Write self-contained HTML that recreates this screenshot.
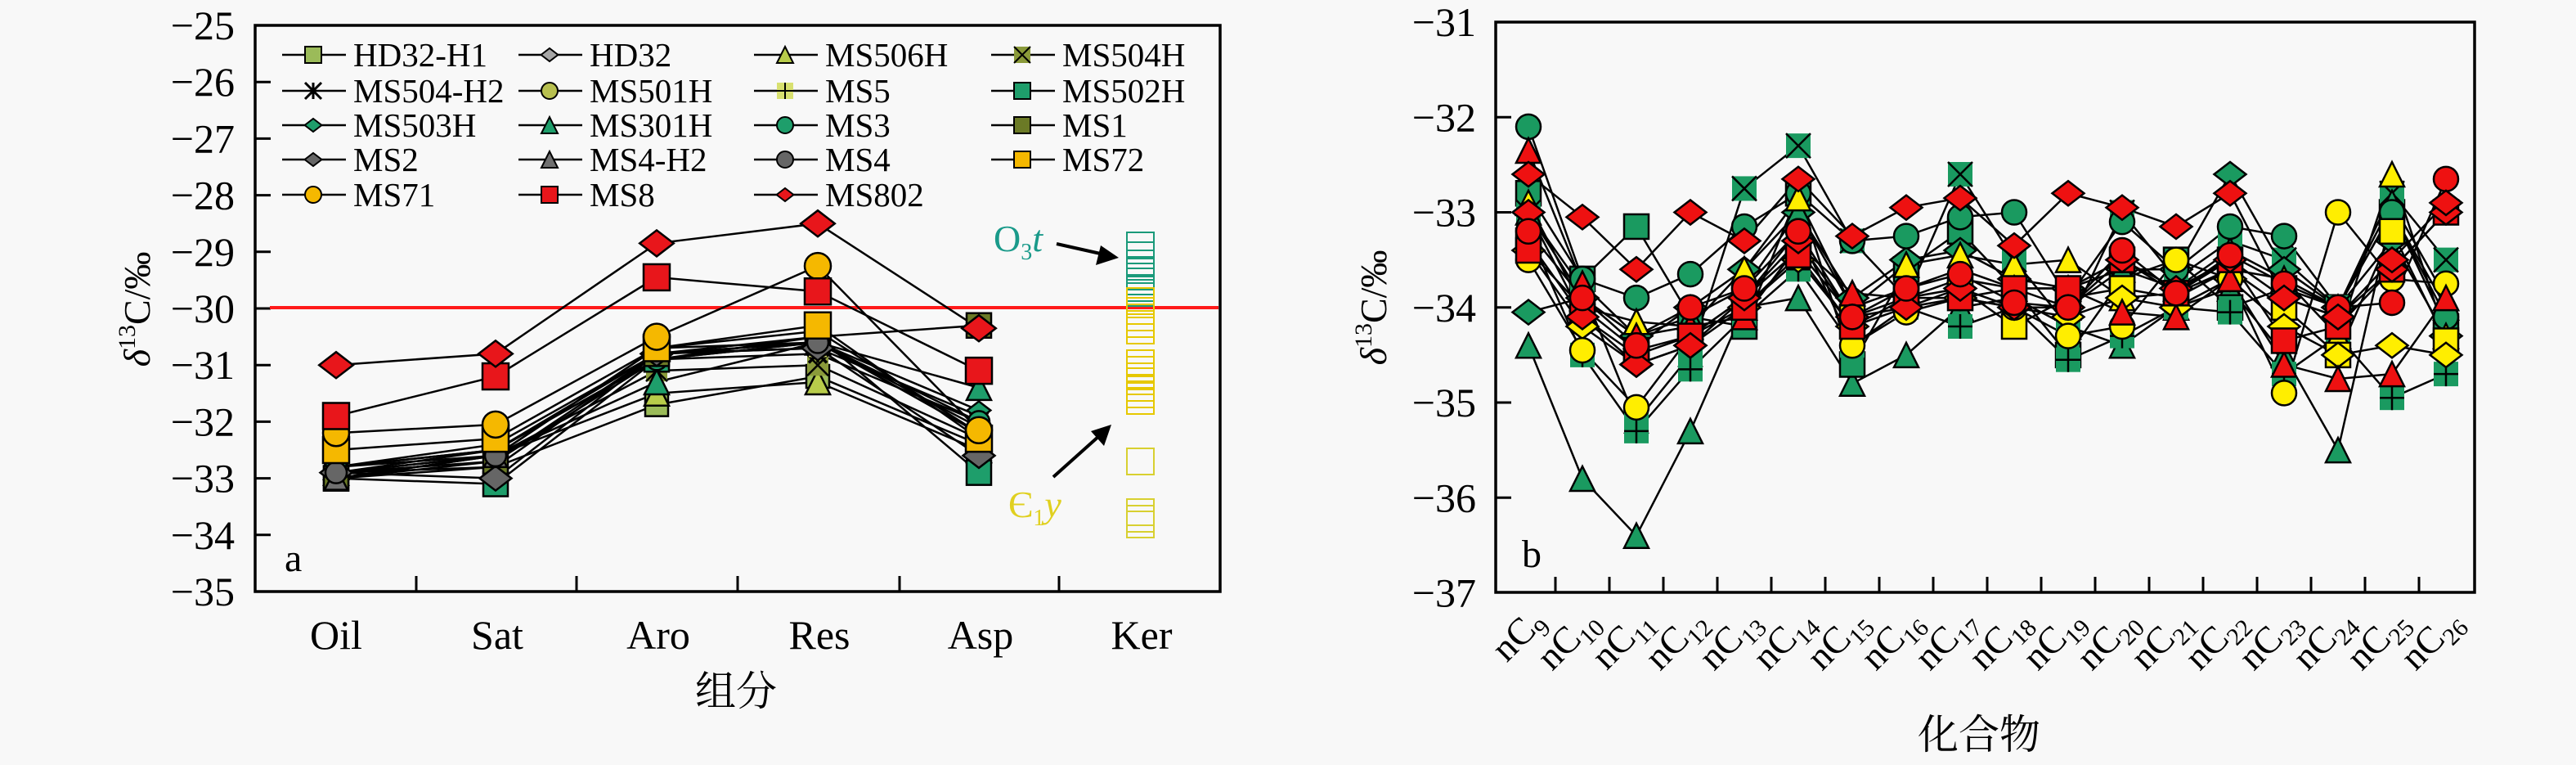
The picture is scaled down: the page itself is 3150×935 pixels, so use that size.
<!DOCTYPE html>
<html><head><meta charset="utf-8"><style>
html,body{margin:0;padding:0;background:#f8f8f8;}
svg{display:block;}
text{font-family:"Liberation Serif","Noto Serif CJK SC",serif;fill:#000;}
</style></head><body>
<svg id="s" width="3150" height="935" viewBox="0 0 3150 935" xmlns="http://www.w3.org/2000/svg"></svg>
<script>
var S=document.getElementById('s');var out='';
function mk(t,x,y,s,f,sw){sw=sw||2.5;var h=s/2,st=' fill="'+f+'" stroke="#000" stroke-width="'+sw+'"';
if(t=='sq')return '<rect x="'+(x-h)+'" y="'+(y-h)+'" width="'+s+'" height="'+s+'"'+st+'/>';
if(t=='ci')return '<circle cx="'+x+'" cy="'+y+'" r="'+h+'"'+st+'/>';
if(t=='di')return '<polygon points="'+(x-h*1.3)+','+y+' '+x+','+(y-h)+' '+(x+h*1.3)+','+y+' '+x+','+(y+h)+'"'+st+'/>';
if(t=='tr')return '<polygon points="'+(x-h)+','+(y+h)+' '+x+','+(y-h)+' '+(x+h)+','+(y+h)+'"'+st+'/>';
if(t=='x')return '<rect x="'+(x-h)+'" y="'+(y-h)+'" width="'+s+'" height="'+s+'" fill="'+f+'" stroke="none"/><path d="M'+(x-h)+' '+(y-h)+'L'+(x+h)+' '+(y+h)+'M'+(x+h)+' '+(y-h)+'L'+(x-h)+' '+(y+h)+'" stroke="#000" stroke-width="'+sw+'"/>';
if(t=='as')return '<path d="M'+(x-h)+' '+(y-h)+'L'+(x+h)+' '+(y+h)+'M'+(x+h)+' '+(y-h)+'L'+(x-h)+' '+(y+h)+'M'+x+' '+(y-h)+'L'+x+' '+(y+h)+'" stroke="#000" stroke-width="'+(sw+1)+'"/>';
if(t=='pl')return '<rect x="'+(x-h)+'" y="'+(y-h)+'" width="'+s+'" height="'+s+'" fill="'+f+'" stroke="none"/><path d="M'+(x-h)+' '+y+'L'+(x+h)+' '+y+'M'+x+' '+(y-h)+'L'+x+' '+(y+h)+'" stroke="#000" stroke-width="'+sw+'"/>';
return '';}
// ---------- LEFT CHART ----------
function yl(v){return 31+(-25-v)*69.2;}
var LX=[411,606,803,1000,1197];
var G='#1e9e6b',Y='#f5b800',R='#e8161b';
var L=[
['HD32-H1','sq','#9bbb59',[-33.0,-32.8,-31.7,-31.2,-32.4],28],
['HD32','di','#a6a6a6',[-32.9,-32.7,-30.9,-30.6,-32.2],20],
['MS506H','tr','#b8cc4a',[-32.9,-32.6,-31.5,-31.3,-32.5],30],
['MS504H','x','#8a9a3a',[-33.0,-32.6,-31.1,-31.0,-32.3],26],
['MS504-H2','as','#c8d060',[-32.8,-32.5,-30.9,-30.8,-32.0],22],
['MS501H','ci','#b8c050',[-32.8,-32.4,-30.8,-30.6,-32.1],28],
['MS5','pl','#d8e070',[-32.9,-32.5,-30.8,-30.7,-31.9],22],
['MS502H','sq',G,[-33.0,-33.1,-30.9,-30.5,-32.9],30],
['MS503H','di',G,[-32.9,-32.8,-30.8,-30.6,-31.8],22],
['MS301H','tr',G,[-32.8,-32.6,-31.3,-30.6,-31.4],30],
['MS3','ci',G,[-32.8,-32.5,-30.9,-30.6,-32.0],26],
['MS1','sq','#6b7a26',[-33.0,-32.7,-30.8,-30.5,-30.3],30],
['MS2','di','#666',[-32.9,-33.0,-30.8,-30.7,-32.6],30],
['MS4-H2','tr','#707070',[-33.0,-32.6,-30.7,-30.4,-32.2],28],
['MS4','ci','#666',[-32.9,-32.6,-30.7,-30.6,-32.2],26],
['MS72','sq',Y,[-32.5,-32.3,-30.7,-30.3,-32.3],32],
['MS71','ci',Y,[-32.2,-32.05,-30.5,-29.25,-32.15],32],
['MS8','sq',R,[-31.9,-31.2,-29.45,-29.7,-31.1],32],
['MS802','di',R,[-31.0,-30.8,-28.85,-28.5,-30.35],32]];
// axes frame
out+='<rect x="312" y="31" width="1180" height="692" fill="none" stroke="#000" stroke-width="3.5"/>';
for(var v=-25;v>=-35;v--){var y=yl(v);if(v<-25&&v>-35)out+='<line x1="312" y1="'+y+'" x2="331" y2="'+y+'" stroke="#000" stroke-width="3"/>';
out+='<text x="287" y="'+(y+17)+'" font-size="50" text-anchor="end">\u2212'+(-v)+'</text>';}
[509,705,902,1100,1295].forEach(function(x){out+='<line x1="'+x+'" y1="723" x2="'+x+'" y2="704" stroke="#000" stroke-width="3"/>';});
['Oil','Sat','Aro','Res','Asp','Ker'].forEach(function(t,i){out+='<text x="'+(411+i*197)+'" y="793" font-size="50" text-anchor="middle">'+t+'</text>';});
out+='<text x="900" y="862" font-size="50" text-anchor="middle">组分</text>';
out+='<text transform="translate(183,378) rotate(-90)" font-size="46" text-anchor="middle"><tspan font-style="italic">δ</tspan><tspan font-size="30" dy="-18">13</tspan><tspan dy="18">C/‰</tspan></text>';
out+='<line x1="330" y1="376" x2="1490" y2="376" stroke="#ff1a1a" stroke-width="4"/>';
// lines
L.forEach(function(s){var p=s[3].map(function(v,i){return LX[i]+','+yl(v);}).join(' ');out+='<polyline points="'+p+'" fill="none" stroke="#000" stroke-width="2.5"/>';});
L.forEach(function(s){s[3].forEach(function(v,i){out+=mk(s[1],LX[i],yl(v),s[4],s[2]);});});
// Ker boxes
var teal=[300,312,322,330,338,344,352,358],yel=[368,380,388,396,404,444,452,460,466,474,482,490];
teal.forEach(function(c){out+='<rect x="1378" y="'+(c-16)+'" width="33" height="32" fill="none" stroke="#1a9a7a" stroke-width="2"/>';});
yel.forEach(function(c){out+='<rect x="1378" y="'+(c-16)+'" width="33" height="32" fill="none" stroke="#e6c800" stroke-width="2"/>';});
[564,626,634,641].forEach(function(c){out+='<rect x="1378" y="'+(c-16)+'" width="33" height="32" fill="none" stroke="#d8d030" stroke-width="2"/>';});
out+='<text x="1215" y="307" font-size="46" fill="#1a9a8a" style="fill:#1a9a8a">O<tspan font-size="28" dy="10">3</tspan><tspan dy="-10" font-style="italic">t</tspan></text>';
out+='<line x1="1292" y1="298" x2="1350" y2="311" stroke="#000" stroke-width="4"/><polygon points="1368,315 1340,324 1346,300" fill="#000"/>';
out+='<text x="1233" y="632" font-size="46" style="fill:#e0d020">Є<tspan font-size="28" dy="10">1</tspan><tspan dy="-10" font-style="italic">y</tspan></text>';
out+='<line x1="1288" y1="583" x2="1345" y2="532" stroke="#000" stroke-width="4"/><polygon points="1359,519 1350,545 1334,527" fill="#000"/>';
out+='<text x="348" y="698" font-size="48">a</text>';
// legend
var cx=[345,634,922,1212],ry=[67,111,153,195,238];
L.forEach(function(s,k){var c=k%4,r=Math.floor(k/4),x=cx[c],y=ry[r];
out+='<line x1="'+x+'" y1="'+y+'" x2="'+(x+78)+'" y2="'+y+'" stroke="#000" stroke-width="2.5"/>';
out+=mk(s[1],x+38,y,s[1]=='di'?16:20,s[2],2);
out+='<text x="'+(x+87)+'" y="'+(y+14)+'" font-size="41">'+s[0]+'</text>';});
// ---------- RIGHT CHART ----------
function yr(v){return 27+(-31-v)*116.25;}
function xr(i){return 1869+66*i;}
out+='<rect x="1829" y="27" width="1197" height="697" fill="none" stroke="#000" stroke-width="3.5"/>';
for(var v=-31;v>=-37;v--){var y=yr(v);if(v<-31&&v>-37)out+='<line x1="1829" y1="'+y+'" x2="1848" y2="'+y+'" stroke="#000" stroke-width="3"/>';
out+='<text x="1805" y="'+(y+17)+'" font-size="50" text-anchor="end">\u2212'+(-v)+'</text>';}
for(var i=0;i<17;i++){var x=xr(i)+33;out+='<line x1="'+x+'" y1="724" x2="'+x+'" y2="705" stroke="#000" stroke-width="3"/>';}
for(var i=0;i<18;i++){out+='<text transform="translate('+(xr(i)+22)+',762) rotate(-45)" font-size="46" text-anchor="end">nC<tspan font-size="30" dy="10">'+(9+i)+'</tspan></text>';}
out+='<text x="2420" y="915" font-size="50" text-anchor="middle">化合物</text>';
out+='<text transform="translate(1695,376) rotate(-90)" font-size="46" text-anchor="middle"><tspan font-style="italic">δ</tspan><tspan font-size="30" dy="-18">13</tspan><tspan dy="18">C/‰</tspan></text>';
out+='<text x="1861" y="693" font-size="48">b</text>';
var g='#1a9a60',y_='#ffee00',r='#ee1111';
var RS=[
['tr',g,[-34.4,-35.8,-36.4,-35.3,-34.0,-33.9,-34.8,-34.5,-34.0,-33.9,-34.2,-34.4,-34.0,-33.8,-34.5,-35.5,-33.0,-34.0]],
['sq',g,[-32.8,-33.7,-33.15,-34.1,-34.2,-32.8,-34.6,-33.6,-33.2,-33.8,-34.5,-33.7,-33.5,-34.0,-33.8,-34.0,-33.0,-34.2]],
['x',g,[-33.0,-33.8,-35.2,-34.5,-32.75,-32.3,-33.3,-33.9,-32.6,-33.5,-34.2,-33.0,-33.7,-33.3,-33.5,-34.0,-32.8,-33.5]],
['pl',g,[-33.2,-34.5,-35.3,-34.65,-34.1,-33.6,-34.4,-34.0,-34.2,-34.0,-34.55,-34.3,-34.0,-34.05,-34.7,-34.3,-34.95,-34.7]],
['di',g,[-34.05,-33.9,-34.3,-34.0,-33.6,-33.0,-33.9,-33.5,-33.4,-33.7,-33.8,-33.6,-33.6,-32.6,-33.6,-34.0,-33.3,-34.3]],
['tr',g,[-33.0,-33.9,-34.3,-34.1,-33.8,-33.0,-34.0,-33.8,-33.6,-33.8,-34.0,-33.6,-33.8,-33.4,-33.7,-34.0,-32.9,-33.9]],
['ci',g,[-32.1,-33.7,-33.9,-33.65,-33.15,-32.8,-33.3,-33.25,-33.05,-33.0,-33.9,-33.1,-33.6,-33.15,-33.25,-34.0,-33.0,-34.1]],
['tr',y_,[-32.9,-34.0,-34.15,-34.2,-33.6,-32.85,-34.0,-33.55,-33.45,-33.55,-33.5,-33.9,-33.85,-33.6,-33.7,-34.3,-32.6,-34.3]],
['sq',y_,[-33.3,-34.1,-34.5,-34.3,-33.9,-33.4,-34.1,-33.9,-33.8,-34.2,-33.9,-33.8,-33.9,-33.6,-34.0,-34.5,-33.2,-34.35]],
['di',y_,[-33.4,-34.2,-34.6,-34.4,-34.0,-33.5,-34.2,-34.0,-33.9,-34.0,-34.1,-33.9,-34.0,-33.7,-34.2,-34.5,-34.4,-34.5]],
['ci',y_,[-33.5,-34.45,-35.05,-34.3,-33.9,-33.2,-34.4,-34.05,-33.9,-34.0,-34.3,-34.2,-33.5,-33.7,-34.9,-33.0,-33.7,-33.75]],
['tr',r,[-32.35,-33.75,-34.3,-34.2,-34.1,-33.35,-33.85,-33.9,-33.7,-33.8,-33.8,-34.05,-34.1,-33.7,-34.6,-34.75,-34.7,-33.9]],
['sq',r,[-33.4,-34.0,-34.45,-34.3,-34.0,-33.45,-34.2,-33.9,-33.9,-33.8,-33.8,-33.5,-33.85,-33.5,-34.35,-34.2,-33.6,-33.0]],
['di',r,[-33.0,-34.1,-34.6,-34.4,-33.9,-33.3,-34.1,-34.0,-33.8,-34.0,-34.0,-33.5,-33.8,-33.5,-33.9,-34.1,-33.6,-33.0]],
['ci',r,[-33.2,-33.9,-34.4,-34.0,-33.8,-33.2,-34.1,-33.8,-33.65,-33.95,-34.0,-33.4,-33.85,-33.45,-33.75,-34.0,-33.95,-32.65]],
['di',r,[-32.6,-33.05,-33.6,-33.0,-33.3,-32.65,-33.25,-32.95,-32.85,-33.35,-32.8,-32.95,-33.15,-32.8,-33.9,-34.1,-33.5,-32.9]]];
RS.forEach(function(s){var p=s[2].map(function(v,i){return xr(i)+','+yr(v);}).join(' ');out+='<polyline points="'+p+'" fill="none" stroke="#000" stroke-width="2.5"/>';});
RS.forEach(function(s){s[2].forEach(function(v,i){out+=mk(s[0],xr(i),yr(v),30,s[1]);});});
S.innerHTML=out;
</script>
</body></html>
